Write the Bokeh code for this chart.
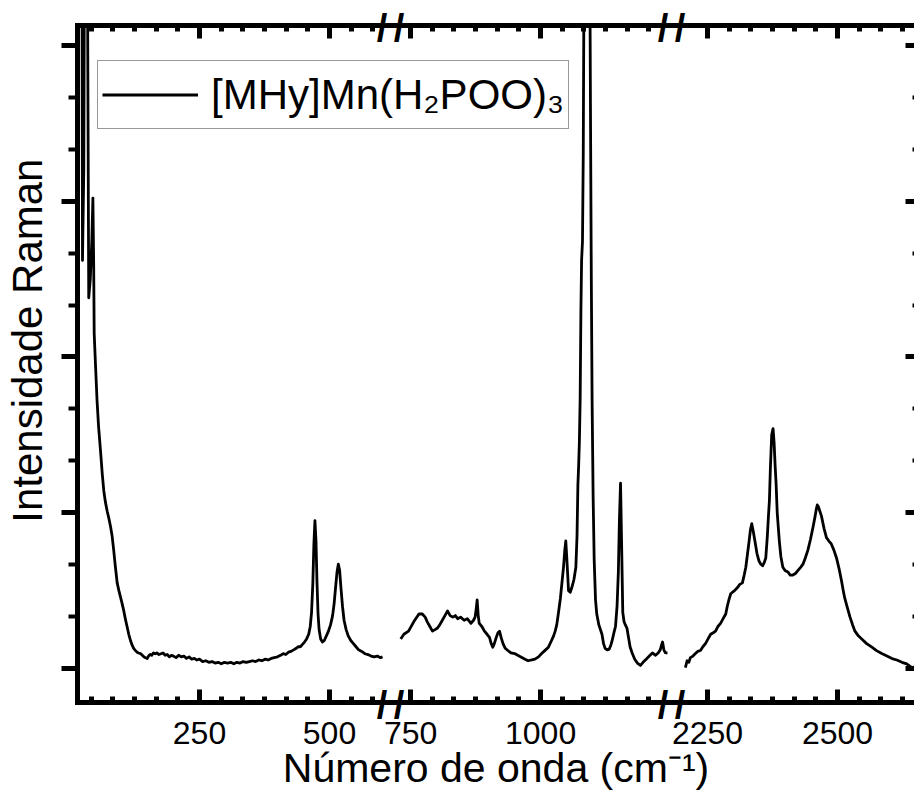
import numpy as np
from bokeh.plotting import figure
from bokeh.models import (Range1d, LinearAxis, FixedTicker, Legend, LegendItem,
                          CustomLabelingPolicy)
from bokeh.embed import file_html
from bokeh.resources import INLINE

# ---------------- data ----------------
seg1_w = [20, 23, 25, 27.5, 30, 32, 34.5, 37, 40, 43, 45, 46.5, 47.5, 50, 53, 56, 59.6, 63, 66, 69,
          72.5, 76, 79, 82, 85, 88, 91.7, 95, 98, 101, 104.4, 108, 111, 114, 117.3, 120.5, 123.7, 127,
          130, 133, 136.5, 140, 143, 146, 149.4, 152, 155, 158, 161.5, 165, 168, 172, 176, 180, 184,
          188, 192, 196, 200, 205, 210, 215, 220, 225, 230, 235, 240, 245, 250, 256, 262, 268, 274,
          280, 286, 292, 298, 304, 310, 316, 322, 328, 334, 340, 346, 352, 358, 364, 370, 376, 382,
          388, 394, 400, 406, 411, 416, 421, 426, 431, 436, 440, 444, 448, 452, 456, 460, 463, 465.5,
          468, 470, 472, 474, 476, 478, 480, 483, 486.5, 490, 494, 498, 502, 506, 509, 512, 514.5, 517,
          519.5, 522, 525, 528, 532, 536, 541, 546, 551, 556, 562, 568, 574, 580, 586, 592, 598, 602]
seg1_i = [9.0, 6.5, 2.62, 3.2, 6.0, 8.5, 4.5, 2.38, 2.5, 2.75, 3.02, 2.6, 2.15, 1.95, 1.72, 1.55, 1.40,
          1.25, 1.14, 1.07, 1.01, 0.96, 0.91, 0.85, 0.76, 0.66, 0.55, 0.50, 0.46, 0.42, 0.37, 0.31,
          0.265, 0.22, 0.18, 0.15, 0.128, 0.115, 0.105, 0.10, 0.096, 0.085, 0.075, 0.07, 0.064, 0.08,
          0.09, 0.085, 0.10, 0.095, 0.10, 0.09, 0.095, 0.10, 0.085, 0.09, 0.075, 0.085, 0.08, 0.07,
          0.085, 0.075, 0.08, 0.065, 0.075, 0.06, 0.065, 0.055, 0.06, 0.045, 0.05, 0.04, 0.045, 0.035,
          0.04, 0.03, 0.04, 0.035, 0.04, 0.03, 0.04, 0.035, 0.045, 0.04, 0.045, 0.05, 0.045, 0.055,
          0.05, 0.06, 0.055, 0.065, 0.07, 0.075, 0.085, 0.096, 0.09, 0.105, 0.11, 0.12, 0.13, 0.14,
          0.14, 0.155, 0.17, 0.19, 0.22, 0.27, 0.36, 0.55, 0.80, 0.95, 0.82, 0.55, 0.35, 0.25, 0.19,
          0.17, 0.18, 0.21, 0.24, 0.28, 0.34, 0.42, 0.53, 0.62, 0.67, 0.63, 0.52, 0.40, 0.31, 0.25,
          0.21, 0.18, 0.16, 0.14, 0.12, 0.11, 0.095, 0.09, 0.08, 0.075, 0.08, 0.07, 0.075]

seg2_w = [731, 737, 746, 756, 766, 772.6, 778, 782, 787, 792, 797, 801.7, 806, 811, 816, 821, 826, 831,
          836, 840.5, 846, 853, 859, 866, 871, 874, 876, 878, 880, 882, 887, 892, 897, 901.7, 905, 908,
          911, 914.7, 918, 921, 924, 927.7, 932, 937, 943, 950, 956, 963, 970, 976, 983, 989, 996,
          1002, 1008, 1015, 1021, 1025, 1028, 1031, 1034, 1038, 1041, 1044, 1046.5, 1048.4, 1050.5,
          1053.7, 1057, 1060, 1064, 1067.8, 1070, 1071.7, 1073, 1074.5, 1076, 1077.5, 1078.8, 1080.5,
          1082, 1083.5, 1085.5, 1089, 1092, 1094, 1096, 1097.5, 1099, 1101, 1103, 1105.6, 1108, 1112,
          1118, 1121, 1124, 1128, 1132, 1135, 1137.6, 1141, 1144, 1147, 1149.5, 1151.5, 1153.7,
          1155.5, 1158, 1160.5, 1163, 1166, 1169, 1172, 1176, 1181, 1186, 1192, 1197, 1203, 1209,
          1215, 1221, 1226, 1230, 1232.5, 1234.5, 1237, 1240, 1244]
seg2_i = [0.19, 0.22, 0.24, 0.30, 0.35, 0.35, 0.33, 0.30, 0.27, 0.24, 0.25, 0.26, 0.28, 0.31, 0.34,
          0.37, 0.34, 0.33, 0.34, 0.32, 0.33, 0.31, 0.32, 0.29, 0.31, 0.33, 0.38, 0.44, 0.34, 0.29,
          0.27, 0.24, 0.22, 0.20, 0.16, 0.137, 0.16, 0.20, 0.23, 0.24, 0.20, 0.16, 0.13, 0.116, 0.10,
          0.096, 0.085, 0.073, 0.06, 0.05, 0.055, 0.06, 0.075, 0.096, 0.115, 0.137, 0.18, 0.21, 0.24,
          0.28, 0.35, 0.45, 0.55, 0.65, 0.76, 0.82, 0.70, 0.50, 0.49, 0.52, 0.57, 0.65, 0.85, 1.18,
          1.29, 1.45, 1.72, 2.3, 2.62, 2.74, 3.3, 4.5, 7.0, 9.0, 7.0, 5.0, 3.5, 2.5, 1.72, 1.1, 0.7,
          0.44, 0.35, 0.28, 0.22, 0.16, 0.13, 0.12, 0.125, 0.15, 0.18, 0.23, 0.27, 0.40, 0.62, 0.95,
          1.19, 0.85, 0.36, 0.30, 0.28, 0.26, 0.20, 0.14, 0.10, 0.06, 0.035, 0.02, 0.04, 0.06, 0.08,
          0.10, 0.085, 0.10, 0.12, 0.15, 0.17, 0.12, 0.10, 0.10]

seg3_w = [2207.4, 2210.7, 2214, 2217, 2222, 2226.7, 2231, 2236.4, 2241, 2246, 2251, 2256, 2261,
          2265.5, 2270, 2275, 2280, 2285, 2288, 2291, 2294.5, 2298, 2302, 2307.5, 2312, 2317, 2320.5,
          2323.6, 2327, 2330, 2332.5, 2335, 2338, 2341, 2345, 2349, 2352.5, 2356, 2359, 2362, 2365,
          2367, 2369, 2371, 2373.4, 2376, 2378, 2380, 2381.8, 2384, 2388, 2391, 2394.8, 2399, 2404.5,
          2409, 2414, 2419, 2424, 2429, 2433.5, 2438, 2443, 2448, 2453, 2457, 2459, 2461, 2463, 2466,
          2469, 2474, 2478.7, 2483, 2488, 2493, 2498, 2503, 2507.8, 2511, 2514, 2519, 2524, 2529,
          2533.5, 2540, 2546.5, 2556, 2566, 2575, 2585, 2595, 2604.7, 2614, 2624, 2633, 2643, 2650]
seg3_i = [0.006, 0.05, 0.04, 0.07, 0.08, 0.096, 0.11, 0.116, 0.14, 0.16, 0.19, 0.22, 0.23, 0.24,
          0.27, 0.29, 0.32, 0.35, 0.40, 0.44, 0.48, 0.49, 0.50, 0.52, 0.54, 0.55, 0.60, 0.65, 0.74,
          0.82, 0.89, 0.93, 0.88, 0.82, 0.74, 0.69, 0.67, 0.66, 0.68, 0.71, 0.85, 0.97, 1.08, 1.30,
          1.50, 1.54, 1.45, 1.30, 1.19, 1.00, 0.82, 0.72, 0.65, 0.63, 0.62, 0.60, 0.60, 0.61, 0.63,
          0.65, 0.67, 0.71, 0.76, 0.83, 0.91, 0.98, 1.02, 1.05, 1.04, 1.01, 0.98, 0.90, 0.84, 0.82,
          0.80, 0.76, 0.71, 0.64, 0.56, 0.50, 0.45, 0.39, 0.33, 0.28, 0.24, 0.21, 0.19, 0.16, 0.137,
          0.115, 0.096, 0.08, 0.064, 0.055, 0.04, 0.03, 0.006, 0.01]

tick_values = [250, 500, 750, 1000, 2250, 2500]
tick_labels = ["250", "500", "750", "1000", "2250", "2500"]
y_major = [0, 1, 2, 3, 4]
legend_label = "[MHy]Mn(H\u2082POO)\u2083"
x_title = "Número de onda (cm\u207b\u00b9)"
y_title = "Intensidade Raman"

# ---------------- broken-axis layout ----------------
# (first wavenumber, last wavenumber, shift subtracted to get the display coordinate)
SEGMENTS = [(15.4, 617.3, 0.0), (711.3, 1251.7, 94.0), (2180.7, 2648.0, 1023.0)]
BREAKS = [617.3, 1157.7]          # display coordinates of the breaks
X0, X1 = 15.4, 1625.0
Y0, Y1 = -0.218, 4.128


def to_display(w):
    for lo, hi, sh in SEGMENTS:
        if lo - 1e-6 <= w <= hi + 1e-6:
            return w - sh
    return None


xs, ys = [], []
for (lo, hi, sh), ww, ii in zip(SEGMENTS, [seg1_w, seg2_w, seg3_w], [seg1_i, seg2_i, seg3_i]):
    if xs:
        xs.append(np.nan)
        ys.append(np.nan)
    xs.extend([w - sh for w in ww])
    ys.extend(ii)

major_d = [to_display(w) for w in tick_values]
overrides = {d: lab for d, lab in zip(major_d, tick_labels)}
minor_d = []
for lo, hi, sh in SEGMENTS:
    k0 = int(np.ceil(lo / (250 / 6)))
    k1 = int(np.floor(hi / (250 / 6)))
    for k in range(k0, k1 + 1):
        d = k * 250 / 6 - sh
        if k % 6 == 0:
            continue
        if any(abs(d - b) < 30 for b in BREAKS):
            continue
        if d < X0 or d > X1:
            continue
        minor_d.append(d)
y_minor = [k / 3 for k in range(1, 13) if k % 3 and k / 3 < Y1]
slash_d = [b + s for b in BREAKS for s in (-16.5, 16.5)]

FONT = "Liberation Sans"

p = figure(width=914, height=801, x_range=Range1d(X0, X1), y_range=Range1d(Y0, Y1),
           output_backend="svg", toolbar_location=None,
           min_border_left=77, min_border_right=0, min_border_top=25, min_border_bottom=99)
p.xgrid.visible = False
p.ygrid.visible = False
p.outline_line_color = None
p.background_fill_color = "white"
p.border_fill_color = "white"

NO_LABELS = "for (const i of [...indices]) { indices.unset(i) }\nreturn indices"


def frame_axis(ax, majors, minors, m_in, m_out, n_in, n_out, line=True):
    ax.ticker = FixedTicker(ticks=majors, minor_ticks=minors)
    ax.major_tick_in, ax.major_tick_out = m_in, m_out
    ax.minor_tick_in, ax.minor_tick_out = n_in, n_out
    ax.major_tick_line_width = 5
    ax.minor_tick_line_width = 5
    ax.major_tick_line_color = "black"
    ax.minor_tick_line_color = "black"
    ax.axis_line_width = 5
    ax.axis_line_cap = "square"
    ax.axis_line_color = "black" if line else None


def hide_labels(ax):
    ax.major_label_policy = CustomLabelingPolicy(code=NO_LABELS)
    ax.major_label_text_font_size = "0px"
    ax.major_label_standoff = 0


# bottom axis: labelled
xb = p.xaxis[0]
frame_axis(xb, major_d, minor_d, 13, 0, 6, 0)
xb.major_label_overrides = overrides
xb.major_label_text_font = FONT
xb.major_label_text_font_size = "32px"
xb.major_label_text_color = "black"
xb.major_label_standoff = 19
xb.axis_label = x_title
xb.axis_label_text_font = FONT
xb.axis_label_text_font_size = "41px"
xb.axis_label_text_font_style = "normal"
xb.axis_label_text_color = "black"
xb.axis_label_standoff = -2

# left axis: outward ticks, title
yl = p.yaxis[0]
frame_axis(yl, y_major, y_minor, 0, 16, 0, 9)
yl.minor_tick_line_width = 4
hide_labels(yl)
yl.axis_label = "\u00a0\u00a0\u00a0\u00a0" + y_title
yl.axis_label_text_font = FONT
yl.axis_label_text_font_size = "42px"
yl.axis_label_text_font_style = "normal"
yl.axis_label_text_color = "black"
yl.axis_label_standoff = 11

# top axis: inward ticks
xt = LinearAxis()
frame_axis(xt, major_d, minor_d, 13, 0, 6, 0)
hide_labels(xt)
p.add_layout(xt, "above")

# right axis: inward ticks, its line lies outside the picture
yr = LinearAxis()
frame_axis(yr, y_major, y_minor, 9, 0, 2, 0, line=False)
yr.minor_tick_line_width = 4
hide_labels(yr)
p.add_layout(yr, "right")

# break marks "//": labels of extra axes, pulled back across the axis lines
for side, standoff in (("above", -23), ("below", -110)):
    ax = LinearAxis(ticker=FixedTicker(ticks=slash_d, minor_ticks=[]),
                    major_label_overrides={d: "/" for d in slash_d},
                    axis_line_color=None, major_tick_line_color=None, minor_tick_line_color=None,
                    major_tick_in=0, major_tick_out=0, minor_tick_in=0, minor_tick_out=0,
                    major_label_standoff=standoff,
                    major_label_text_font=FONT, major_label_text_font_size="38px",
                    major_label_text_font_style="bold", major_label_text_color="black")
    p.add_layout(ax, side)

r = p.line(xs, ys, line_color="black", line_width=2.8, line_join="round")

legend = Legend(items=[LegendItem(label=legend_label, renderers=[r])],
                location=(20, 573), padding=4, spacing=0, margin=0,
                glyph_width=96, glyph_height=59, label_standoff=13,
                label_text_font=FONT, label_text_font_size="42px", label_text_color="black",
                border_line_color="#333333", border_line_width=1.5,
                background_fill_color="white", background_fill_alpha=1.0)
p.add_layout(legend)

open("out.html", "w").write(file_html(p, INLINE))
